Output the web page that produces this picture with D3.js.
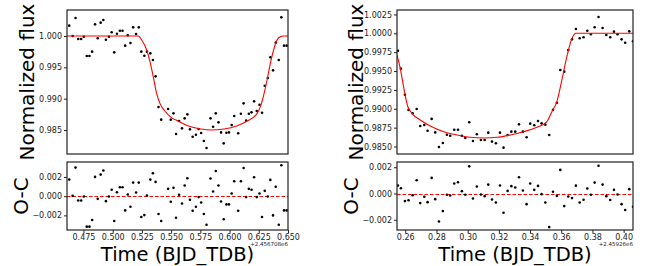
<!DOCTYPE html>
<html lang="en">
  <head>
    <meta charset="UTF-8" />
    <title>Transit light curves</title>
    <style>
      body { margin: 0; background: #fff; }
      svg { display: block; font-family: "DejaVu Sans", sans-serif; }
    </style>
  </head>
  <body>
    <script src="https://d3js.org/d3.v7.min.js"></script>
    <script>
      const width = 653;
      const height = 266;

      // ---- left transit (offset +2.456708e6) ----
      const leftTime = [0.4628, 0.4657, 0.4682, 0.4705, 0.4730, 0.4753, 0.4778, 0.4801, 0.4824, 0.4849,
        0.4872, 0.4897, 0.4920, 0.4942, 0.4968, 0.4991, 0.5013, 0.5036, 0.5061, 0.5084,
        0.5107, 0.5129, 0.5152, 0.5175, 0.5200, 0.5223, 0.5245, 0.5271, 0.5293, 0.5322,
        0.5344, 0.5367, 0.5392, 0.5415, 0.5474, 0.5497, 0.5520, 0.5542, 0.5568, 0.5593,
        0.5616, 0.5639, 0.5661, 0.5684, 0.5712, 0.5735, 0.5757, 0.5780, 0.5803, 0.5837,
        0.5859, 0.5882, 0.5905, 0.5927, 0.5950, 0.5973, 0.5995, 0.6018, 0.6040, 0.6074,
        0.6097, 0.6120, 0.6142, 0.6165, 0.6188, 0.6210, 0.6233, 0.6256, 0.6278, 0.6301,
        0.6327, 0.6349, 0.6372, 0.6395, 0.6421, 0.6443, 0.6466, 0.6488];
      const leftFlux = [1.00165, 1.0000, 1.00287, 0.99952, 0.99952, 0.99989, 0.99681, 0.99681, 0.99750, 1.00186,
        0.99963, 1.00213, 1.00255, 0.99941, 0.99989, 1.00059, 0.99739, 1.00037, 1.00085, 1.00085,
        0.99846, 1.00011, 0.99888, 1.00138, 1.00032, 1.00138, 0.99750, 0.99686, 0.99750, 0.99723,
        0.99617, 0.99356, 0.98867, 0.98665, 0.98835, 0.98665, 0.98766, 0.98436, 0.98643, 0.98526,
        0.98686, 0.98750, 0.98510, 0.98393, 0.98425, 0.98516, 0.98452, 0.98324, 0.98212, 0.98686,
        0.98553, 0.98766, 0.98622, 0.98462, 0.98287, 0.98457, 0.98462, 0.98580, 0.98723, 0.98447,
        0.98760, 0.98925, 0.98649, 0.98760, 0.98782, 0.98957, 0.98803, 0.98904, 0.98776, 0.99207,
        0.99330, 0.99660, 0.99452, 0.99894, 0.99617, 1.00298, 0.99846, 0.99846];
      const leftResid = [0.00172, 0.00003, 0.00297, -0.00045, -0.00045, -0.00003, -0.00317, -0.00317, -0.00248, 0.00200,
        -0.00028, 0.00224, 0.00266, -0.00052, -0.00003, 0.00066, -0.00259, 0.00041, 0.00093, 0.00093,
        -0.00148, 0.00017, -0.00110, 0.00141, 0.00038, 0.00141, -0.00217, -0.00197, 0.00007, 0.00172,
        0.00238, 0.00148, -0.00186, -0.00259, 0.00076, -0.00059, 0.00086, -0.00224, 0.00014, -0.00076,
        0.00110, 0.00186, -0.00038, -0.00152, -0.00110, -0.00010, -0.00066, -0.00186, -0.00297, 0.00183,
        0.00048, 0.00262, 0.00110, -0.00055, -0.00241, -0.00086, -0.00086, 0.00028, 0.00155, -0.00152,
        0.00155, 0.00293, -0.00010, 0.00076, 0.00066, 0.00197, -0.00010, 0.00028, -0.00217, 0.00055,
        -0.00003, 0.00169, -0.00200, 0.00097, -0.00297, 0.00321, -0.00148, -0.00148];
      const leftModelTime = [0.4609, 0.5220, 0.5248, 0.5291, 0.5319, 0.5347, 0.5376, 0.5404, 0.5446, 0.5503,
        0.5559, 0.5641, 0.5755, 0.5840, 0.5953, 0.6066, 0.6151, 0.6236, 0.6264, 0.6292,
        0.6321, 0.6349, 0.6377, 0.6406, 0.6434, 0.6462, 0.6500];
      const leftModelFlux = [1.0, 1.0, 0.99936, 0.99777, 0.9959, 0.99351, 0.99085, 0.98925, 0.98803, 0.98697,
        0.98643, 0.98569, 0.98516, 0.98500, 0.98516, 0.98569, 0.98643, 0.98766, 0.98872, 0.99058,
        0.99298, 0.99564, 0.99777, 0.99936, 0.99989, 1.0, 1.0];
      const leftXTicks = [0.475, 0.5, 0.525, 0.55, 0.575, 0.6, 0.625, 0.65];
      const leftFluxTicks = [0.985, 0.99, 0.995, 1.0];
      const leftResidTicks = [-0.002, 0, 0.002];

      // ---- right transit (offset +2.45926e6) ----
      const rightTime = [0.2553, 0.2572, 0.2598, 0.2621, 0.2647, 0.2673, 0.2696, 0.2722, 0.2743, 0.2769,
        0.2792, 0.2816, 0.2841, 0.2867, 0.2888, 0.2914, 0.2938, 0.2963, 0.2985, 0.3010,
        0.3034, 0.3059, 0.3085, 0.3109, 0.3132, 0.3156, 0.3181, 0.3207, 0.3230, 0.3256,
        0.3280, 0.3305, 0.3329, 0.3354, 0.3378, 0.3401, 0.3427, 0.3451, 0.3474, 0.3498,
        0.3523, 0.3547, 0.3572, 0.3594, 0.3619, 0.3645, 0.3669, 0.3694, 0.3718, 0.3743,
        0.3767, 0.3790, 0.3814, 0.3839, 0.3865, 0.3889, 0.3914, 0.3938, 0.3961, 0.3987,
        0.4010, 0.4036, 0.4060];
      const rightFlux = [0.99770, 0.99532, 0.99187, 0.98985, 0.98940, 0.98998, 0.98772, 0.98785, 0.98710, 0.98866,
        0.98687, 0.98493, 0.98546, 0.98657, 0.98643, 0.98723, 0.98723, 0.98643, 0.98613, 0.98821,
        0.98574, 0.98662, 0.98587, 0.98587, 0.98684, 0.98565, 0.98543, 0.98684, 0.98485, 0.98653,
        0.98697, 0.98697, 0.98794, 0.98697, 0.98622, 0.98803, 0.98781, 0.98839, 0.98807, 0.98790,
        0.98653, 0.98988, 0.99081, 0.99514, 0.99492, 0.99779, 0.99920, 1.00057, 0.99934, 0.99947,
        1.00035, 0.99987, 1.00080, 1.00216, 1.00071, 0.99978, 0.99947, 1.00022, 0.99987, 0.99920,
        0.99876, 1.00026, 0.99894];
      const rightResid = [0.00061, 0.00040, -0.00058, -0.00051, -0.00013, 0.00101, -0.00073, -0.00025, -0.00066, 0.00119,
        -0.00043, -0.00213, -0.00134, -0.00010, -0.00015, 0.00076, 0.00086, 0.00018, -0.00010, 0.00207,
        -0.00038, 0.00053, -0.00008, -0.00020, 0.00068, -0.00046, -0.00068, 0.00061, -0.00147, 0.00020,
        0.00056, 0.00046, 0.00124, 0.00023, -0.00081, 0.00076, 0.00028, 0.00058, -0.00005, -0.00068,
        -0.00256, 0.00013, -0.00018, 0.00180, -0.00096, -0.00023, -0.00035, 0.00060, -0.00068, -0.00048,
        0.00038, -0.00010, 0.00083, 0.00212, 0.00068, -0.00020, -0.00050, 0.00028, -0.00008, -0.00081,
        -0.00126, 0.00033, -0.00101];
      const rightModelTime = [0.2547, 0.2568, 0.2589, 0.2615, 0.2643, 0.2696, 0.2760, 0.2846, 0.2931, 0.3017,
        0.3102, 0.3188, 0.3273, 0.3359, 0.3444, 0.3508, 0.3540, 0.3572, 0.3604, 0.3636,
        0.3669, 0.3694, 0.4060];
      const rightModelFlux = [0.99713, 0.99536, 0.99293, 0.99037, 0.98940, 0.98852, 0.98772, 0.98697, 0.98653, 0.98622,
        0.98613, 0.98622, 0.98653, 0.98697, 0.98754, 0.98829, 0.98962, 0.99095, 0.99382, 0.99691,
        0.99934, 1.0, 1.0];
      const rightXTicks = [0.26, 0.28, 0.3, 0.32, 0.34, 0.36, 0.38, 0.4];
      const rightFluxTicks = [0.985, 0.9875, 0.99, 0.9925, 0.995, 0.9975, 1.0, 1.0025];
      const rightResidTicks = [-0.002, 0, 0.002];

      const font = "DejaVu Sans, sans-serif";

      const svg = d3
        .select("body")
        .append("svg")
        .attr("width", width)
        .attr("height", height)
        .attr("font-family", font);

      let clipId = 0;

      function styleAxis(g) {
        g.attr("font-family", font);
        g.select(".domain").remove();
        g.selectAll("text").attr("font-size", 8).attr("fill", "#222");
        g.selectAll("line").attr("stroke", "#222");
      }

      function drawAxes(box, x, y, yTicks, yFmt, showX, xTicks, xFmt) {
        const id = "clip" + clipId++;
        svg.append("clipPath").attr("id", id)
          .append("rect")
          .attr("x", box.left).attr("y", box.top)
          .attr("width", box.right - box.left).attr("height", box.bottom - box.top);

        svg.append("g")
          .attr("transform", `translate(${box.left},0)`)
          .call(d3.axisLeft(y).tickValues(yTicks).tickFormat(d3.format(yFmt)).tickSize(3).tickPadding(2))
          .call(styleAxis);

        if (showX) {
          svg.append("g")
            .attr("transform", `translate(0,${box.bottom})`)
            .call(d3.axisBottom(x).tickValues(xTicks).tickFormat(d3.format(xFmt)).tickSize(3).tickPadding(1.5))
            .call(styleAxis);
        }

        return svg.append("g").attr("clip-path", `url(#${id})`);
      }

      function frame(box) {
        svg.append("rect")
          .attr("x", box.left).attr("y", box.top)
          .attr("width", box.right - box.left).attr("height", box.bottom - box.top)
          .attr("fill", "none").attr("stroke", "#222").attr("stroke-width", 1.2);
      }

      function drawTransit(opt) {
        const topBox = { left: opt.left, right: opt.right, top: 10, bottom: 154 };
        const botBox = { left: opt.left, right: opt.right, top: 162, bottom: 230 };

        const x = d3.scaleLinear().domain(opt.xDomain).range([opt.left, opt.right]);
        const yF = d3.scaleLinear().domain(opt.fluxDomain).range([topBox.bottom, topBox.top]);
        const yR = d3.scaleLinear().domain(opt.residDomain).range([botBox.bottom, botBox.top]);

        // light curve + model
        const top = drawAxes(topBox, x, yF, opt.fluxTicks, opt.fluxFmt, false);
        top.selectAll("circle")
          .data(opt.time)
          .join("circle")
          .attr("cx", (d) => x(d))
          .attr("cy", (d, i) => yF(opt.flux[i]))
          .attr("r", 1.3)
          .attr("fill", "#000");
        const line = d3.line()
          .x((d) => x(d))
          .y((d, i) => yF(opt.modelFlux[i]))
          .curve(d3.curveMonotoneX);
        top.append("path")
          .attr("d", line(opt.modelTime))
          .attr("fill", "none")
          .attr("stroke", "red")
          .attr("stroke-width", 1.1);
        frame(topBox);

        // residuals
        const bot = drawAxes(botBox, x, yR, opt.residTicks, ".3f", true, opt.xTicks, opt.xFmt);
        const y0 = Math.round(yR(0)) + 0.5;
        bot.append("line")
          .attr("x1", opt.left).attr("x2", opt.right)
          .attr("y1", y0).attr("y2", y0)
          .attr("stroke", "#f00").attr("stroke-width", 1.2)
          .attr("stroke-dasharray", "3.5,2");
        bot.selectAll("circle")
          .data(opt.time)
          .join("circle")
          .attr("cx", (d) => x(d))
          .attr("cy", (d, i) => yR(opt.resid[i]))
          .attr("r", 1.3)
          .attr("fill", "#000");
        frame(botBox);

        // labels
        svg.append("text")
          .attr("transform", `translate(${opt.fluxLabelX},${(topBox.top + topBox.bottom) / 2}) rotate(-90)`)
          .attr("text-anchor", "middle")
          .attr("dominant-baseline", "central")
          .attr("font-size", 20)
          .text("Normalized flux");
        svg.append("text")
          .attr("transform", `translate(${opt.ocLabelX},${(botBox.top + botBox.bottom) / 2}) rotate(-90)`)
          .attr("text-anchor", "middle")
          .attr("dominant-baseline", "central")
          .attr("font-size", 20)
          .text("O-C");
        svg.append("text")
          .attr("x", (opt.left + opt.right) / 2)
          .attr("y", 260.5)
          .attr("text-anchor", "middle")
          .attr("font-size", 19.5)
          .text("Time (BJD_TDB)");
        svg.append("text")
          .attr("x", opt.right)
          .attr("y", 246)
          .attr("text-anchor", "end")
          .attr("font-size", 5.5)
          .attr("fill", "#222")
          .text(opt.offset);
      }

      drawTransit({
        left: 67, right: 288,
        xDomain: [0.4609, 0.6500],
        fluxDomain: [0.98117, 1.00415],
        residDomain: [-0.00352, 0.00355],
        time: leftTime, flux: leftFlux, resid: leftResid,
        modelTime: leftModelTime, modelFlux: leftModelFlux,
        xTicks: leftXTicks, xFmt: ".3f",
        fluxTicks: leftFluxTicks, fluxFmt: ".3f",
        residTicks: leftResidTicks,
        fluxLabelX: 27, ocLabelX: 21,
        offset: "+2.456708e6",
      });

      drawTransit({
        left: 397, right: 633,
        xDomain: [0.2547, 0.4060],
        fluxDomain: [0.98401, 1.00309],
        residDomain: [-0.00278, 0.0024],
        time: rightTime, flux: rightFlux, resid: rightResid,
        modelTime: rightModelTime, modelFlux: rightModelFlux,
        xTicks: rightXTicks, xFmt: ".2f",
        fluxTicks: rightFluxTicks, fluxFmt: ".4f",
        residTicks: rightResidTicks,
        fluxLabelX: 356, ocLabelX: 351,
        offset: "+2.45926e6",
      });
    </script>
  </body>
</html>
